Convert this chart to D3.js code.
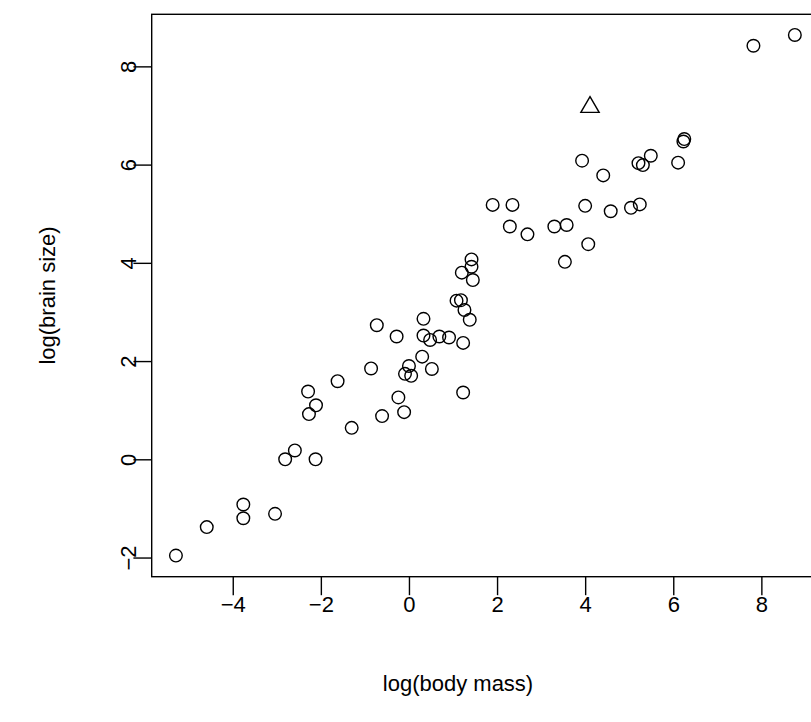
<!DOCTYPE html>
<html>
<head>
<meta charset="utf-8">
<script src="https://cdn.jsdelivr.net/npm/d3@7"></script>
<style>
  body { margin: 0; background: #fff; }
  svg { display: block; font-family: "Liberation Sans", Arial, Helvetica, sans-serif; }
</style>
</head>
<body>
<svg id="plot" width="811" height="722"></svg>
<script>
// log(body mass) and log(brain size), one entry per animal
var bodyMass = [-5.29, -4.59, -3.76, -3.76, -3.04, -2.81, -2.59, -2.12, -2.29, -2.11,
                -2.27, -1.62, -1.30, -0.86, 0.00, -0.09, 0.05, 0.30, 0.52, -0.24,
                -0.11, -0.61, -0.73, -0.28, 0.33, 0.33, 0.48, 0.69, 0.91, 1.23,
                1.23, 1.42, 1.42, 1.20, 1.45, 1.08, 1.18, 1.26, 1.38, 1.90,
                2.35, 2.29, 2.69, 3.30, 3.58, 3.54, 4.00, 4.07, 3.93, 4.41,
                4.58, 5.04, 5.24, 5.21, 5.31, 5.49, 6.11, 6.23, 6.25, 7.82, 8.76];
var brainSize = [-1.96, -1.38, -0.92, -1.20, -1.11, 0.00, 0.18, 0.00, 1.38, 1.10,
                 0.92, 1.59, 0.64, 1.85, 1.90, 1.74, 1.70, 2.09, 1.84, 1.26,
                 0.96, 0.88, 2.73, 2.50, 2.86, 2.52, 2.43, 2.50, 2.48, 2.37,
                 1.36, 4.07, 3.92, 3.80, 3.65, 3.23, 3.24, 3.04, 2.84, 5.18,
                 5.18, 4.74, 4.58, 4.74, 4.77, 4.02, 5.16, 4.38, 6.08, 5.78,
                 5.05, 5.12, 5.19, 6.03, 5.99, 6.18, 6.04, 6.47, 6.52, 8.42, 8.64];
// the highlighted animal (triangle)
var humanMass = [4.11];
var humanBrain = [7.17];

var xTicks = [-4, -2, 0, 2, 4, 6, 8];
var yTicks = [-2, 0, 2, 4, 6, 8];

var svg = d3.select("#plot");
var plotLeft = 151.7, plotTop = 14.3, plotBottom = 576.7, plotRight = 840;

var x = d3.scaleLinear().domain([-5.84, 9.785]).range([plotLeft, plotRight]);
var y = d3.scaleLinear().domain([-2.39, 9.06]).range([plotBottom, plotTop]);

var fmt = function(d) { return d < 0 ? "\u2212" + Math.abs(d) : "" + d; };

// x axis
var gx = svg.append("g")
    .attr("transform", "translate(0," + plotBottom + ")")
    .call(d3.axisBottom(x).tickValues(xTicks).tickFormat(fmt).tickSize(18.5).tickPadding(1).tickSizeOuter(0));
gx.select(".domain").remove();
gx.selectAll(".tick line").attr("stroke", "#000").attr("stroke-width", 1.4);
gx.selectAll(".tick text").attr("fill", "#000").style("font-size", "22px");

// y axis, labels rotated like base R
var gy = svg.append("g")
    .attr("transform", "translate(" + plotLeft + ",0)")
    .call(d3.axisLeft(y).tickValues(yTicks).tickFormat(fmt).tickSize(18.3).tickSizeOuter(0));
gy.select(".domain").remove();
gy.selectAll(".tick line").attr("stroke", "#000").attr("stroke-width", 1.4);
gy.selectAll(".tick text")
    .attr("x", 0)
    .attr("dy", "0.35em")
    .attr("text-anchor", "middle")
    .attr("transform", "translate(-23.7,0) rotate(-90)")
    .attr("fill", "#000")
    .style("font-size", "22px");

// plot box
svg.append("rect")
    .attr("x", plotLeft)
    .attr("y", plotTop)
    .attr("width", plotRight - plotLeft)
    .attr("height", plotBottom - plotTop)
    .attr("fill", "none")
    .attr("stroke", "#000")
    .attr("stroke-width", 1.4);

// points
svg.append("g").selectAll("circle")
    .data(d3.range(bodyMass.length))
    .enter().append("circle")
    .attr("cx", function(i) { return x(bodyMass[i]); })
    .attr("cy", function(i) { return y(brainSize[i]); })
    .attr("r", 6.3)
    .attr("fill", "none")
    .attr("stroke", "#000")
    .attr("stroke-width", 1.4);

svg.append("g").selectAll("path")
    .data(d3.range(humanMass.length))
    .enter().append("path")
    .attr("transform", function(i) { return "translate(" + x(humanMass[i]) + "," + y(humanBrain[i]) + ")"; })
    .attr("d", d3.symbol().type(d3.symbolTriangle).size(145))
    .attr("fill", "none")
    .attr("stroke", "#000")
    .attr("stroke-width", 1.4);

// axis titles
svg.append("text")
    .attr("x", 458)
    .attr("y", 683)
    .attr("dy", "0.35em")
    .attr("text-anchor", "middle")
    .style("font-size", "22px")
    .text("log(body mass)");

svg.append("text")
    .attr("transform", "translate(47,295.5) rotate(-90)")
    .attr("dy", "0.35em")
    .attr("text-anchor", "middle")
    .style("font-size", "22px")
    .text("log(brain size)");
</script>
</body>
</html>
